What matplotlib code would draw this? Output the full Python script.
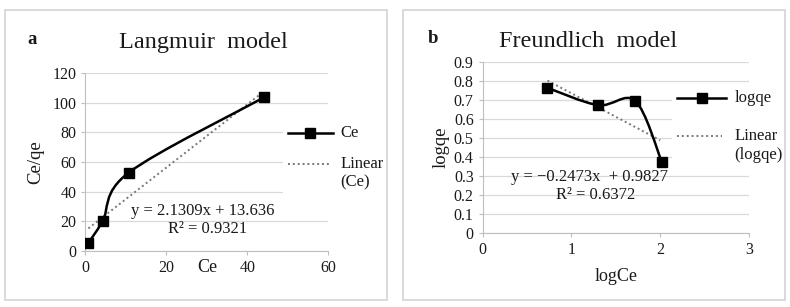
import numpy as np
import matplotlib.pyplot as plt
from matplotlib.path import Path
from matplotlib.patches import PathPatch, Rectangle
from matplotlib.lines import Line2D

plt.rcParams['font.family'] = ['Liberation Serif', 'DejaVu Serif']

# Langmuir data
ce = [0.75, 4.3, 10.7, 44.1]
ce_qe = [5.4, 20.3, 52.8, 103.5]
lang_slope, lang_int = 2.1309, 13.636

# Freundlich data
log_ce = [0.73, 1.30, 1.72, 2.02]
log_qe = [0.764, 0.673, 0.695, 0.372]
fr_slope, fr_int = -0.2473, 0.9827

TXT = '#1a1a1a'
GRID = '#d9d9d9'


def smooth_path(x, y):
    # Catmull-Rom style smoothing (like Excel's smoothed line) as cubic Beziers
    p = np.column_stack([x, y]).astype(float)
    pts = [p[0]]
    codes = [Path.MOVETO]
    n = len(p)
    for i in range(n - 1):
        p0 = p[i - 1] if i > 0 else p[i]
        p3 = p[i + 2] if i + 2 < n else p[i + 1]
        c1 = p[i] + (p[i + 1] - p0) / 6
        c2 = p[i + 1] - (p3 - p[i]) / 6
        pts += [c1, c2, p[i + 1]]
        codes += [Path.CURVE4] * 3
    return Path(pts, codes)


def style_axes(ax):
    ax.grid(axis='y', color=GRID, linewidth=0.9)
    ax.set_axisbelow(True)
    for s in ['top', 'right']:
        ax.spines[s].set_visible(False)
    for s in ['left', 'bottom']:
        ax.spines[s].set_color('#bfbfbf')
    ax.tick_params(colors='#bfbfbf', labelcolor=TXT, labelsize=11.5, length=3)


def draw_legend(ax, x0, y1, y2, dy, name, lab2):
    # white box hiding the gridlines, like Excel's legend
    ax.add_patch(Rectangle((x0 - 0.02, y2 - dy - 0.07), 0.5, y1 - y2 + dy + 0.14,
                           transform=ax.transAxes, facecolor='white',
                           edgecolor='none', clip_on=False, zorder=3))
    ax.add_line(Line2D([x0, x0 + 0.185], [y1, y1], transform=ax.transAxes,
                       color='black', lw=1.8, clip_on=False, zorder=4))
    ax.plot([x0 + 0.0925], [y1], 's', color='black', markersize=7,
            transform=ax.transAxes, clip_on=False, zorder=5)
    ax.add_line(Line2D([x0, x0 + 0.17], [y2, y2], transform=ax.transAxes,
                       color='#777777', lw=1.4, ls=(0, (1, 1.5)),
                       clip_on=False, zorder=4))
    ax.text(x0 + 0.215, y1, name, transform=ax.transAxes, fontsize=12,
            color=TXT, va='center', ha='left', zorder=5)
    ax.text(x0 + 0.215, y2, 'Linear', transform=ax.transAxes,
            fontsize=12, color=TXT, va='center', ha='left', zorder=5)
    ax.text(x0 + 0.215, y2 - dy, lab2, transform=ax.transAxes,
            fontsize=12, color=TXT, va='center', ha='left', zorder=5)


fig = plt.figure(figsize=(7.9, 3.07), dpi=100)

for x in (0.0063, 0.510):
    fig.patches.append(Rectangle((x, 0.023), 0.484, 0.945, transform=fig.transFigure,
                                 facecolor='none', edgecolor='#d3d3d3', lw=1.2))

# ---- panel a
ax = fig.add_axes([0.108, 0.1824, 0.3076, 0.5798])
style_axes(ax)
xa = np.array([ce[0], ce[-1]])
ax.plot(xa, lang_slope * xa + lang_int, color='#777777', lw=1.4, ls=(0, (1, 1.5)), zorder=2)
ax.add_patch(PathPatch(smooth_path(ce, ce_qe), facecolor='none', edgecolor='black', lw=1.8, zorder=3))
ax.plot(ce, ce_qe, 's', color='black', markersize=7, zorder=4)
ax.set_xlim(0, 60)
ax.set_ylim(0, 120)
ax.set_xticks([0, 20, 40, 60])
ax.set_yticks(range(0, 121, 20))
ax.set_ylabel('Ce/qe', fontsize=13.5, color=TXT, labelpad=6)
ax.text(0.502, -0.09, 'Ce', transform=ax.transAxes, fontsize=13, color=TXT, ha='center', va='center')
ax.text(0.485, 0.225, 'y = 2.1309x + 13.636', transform=ax.transAxes, fontsize=12, color=TXT, ha='center', va='center')
ax.text(0.505, 0.125, 'R² = 0.9321', transform=ax.transAxes, fontsize=12, color=TXT, ha='center', va='center')
draw_legend(ax, 0.834, 0.663, 0.49, 0.107, 'Ce', '(Ce)')
fig.text(0.257, 0.863, 'Langmuir  model', fontsize=17.5, color=TXT, ha='center', va='center')
fig.text(0.04, 0.872, 'a', fontsize=13.5, fontweight='bold', color=TXT, ha='center', va='center')

# ---- panel b
ax = fig.add_axes([0.611, 0.241, 0.337, 0.557])
style_axes(ax)
xb = np.array([log_ce[0], 2.0])
ax.plot(xb, fr_slope * xb + fr_int, color='#777777', lw=1.4, ls=(0, (1, 1.5)), zorder=2)
ax.add_patch(PathPatch(smooth_path(log_ce, log_qe), facecolor='none', edgecolor='black', lw=1.8, zorder=3))
ax.plot(log_ce, log_qe, 's', color='black', markersize=7, zorder=4)
ax.set_xlim(0, 3)
ax.set_ylim(0, 0.9)
ax.set_xticks([0, 1, 2, 3])
ax.set_yticks(np.arange(0, 0.91, 0.1))
ax.set_yticklabels(['0'] + [f'{v:.1f}' for v in np.arange(0.1, 0.91, 0.1)])
ax.set_ylabel('logqe', fontsize=13.5, color=TXT, labelpad=3)
ax.set_xlabel('logCe', fontsize=13, color=TXT, labelpad=7)
ax.text(0.40, 0.327, 'y = \u22120.2473x  + 0.9827', transform=ax.transAxes, fontsize=12, color=TXT, ha='center', va='center')
ax.text(0.425, 0.22, 'R² = 0.6372', transform=ax.transAxes, fontsize=12, color=TXT, ha='center', va='center')
draw_legend(ax, 0.73, 0.79, 0.57, 0.115, 'logqe', '(logqe)')
fig.text(0.745, 0.866, 'Freundlich  model', fontsize=17.5, color=TXT, ha='center', va='center')
fig.text(0.548, 0.876, 'b', fontsize=13.5, fontweight='bold', color=TXT, ha='center', va='center')

fig.savefig('out.png', dpi=100)
